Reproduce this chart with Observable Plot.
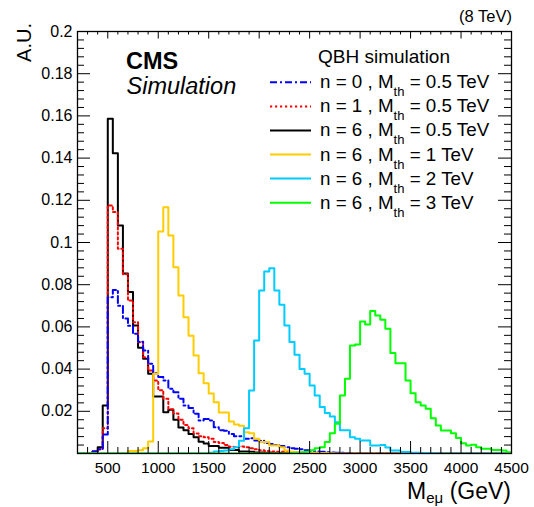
<!DOCTYPE html>
<html>
<head>
<meta charset="utf-8">
<script src="https://cdn.jsdelivr.net/npm/d3@7"></script>
<script src="https://cdn.jsdelivr.net/npm/@observablehq/plot@0.6"></script>
<style>
  html, body { margin: 0; padding: 0; background: #fff; }
  svg { display: block; }
</style>
</head>
<body>
<div id="chart"></div>
<script>
// ---- binning (GeV) ----
const binStart = 200;
const binWidth = 50;

// ---- histogram contents (A.U.), one value per 50 GeV bin from 200 GeV ----
const n0_m05 = [
  0, 0, 0, 0.001, 0.002, 0.009,
  0.074, 0.0775, 0.070, 0.064, 0.0605, 0.0567, 0.053, 0.0488, 0.0425, 0.038,
  0.0362, 0.0346, 0.0307, 0.029, 0.0259, 0.0227, 0.0216, 0.0188, 0.0156, 0.0164,
  0.0156, 0.0125, 0.011, 0.0108, 0.0093, 0.0082, 0.0082, 0.007, 0.0072, 0.0062,
  0.006, 0.005, 0.0045, 0.004, 0.0035, 0.003, 0.0025, 0.0022, 0.002, 0.0015,
  0.0012, 0.001, 0.0008, 0.0006, 0.0005, 0.0004, 0.0003, 0.0002, 0, 0,
  0, 0, 0, 0, 0, 0, 0, 0, 0, 0,
  0, 0, 0, 0, 0, 0, 0, 0, 0, 0,
  0, 0, 0, 0, 0, 0, 0, 0, 0, 0
];
const n1_m05 = [
  0, 0, 0, 0.001, 0.002, 0.012,
  0.1175, 0.1144, 0.097, 0.085, 0.0725, 0.0622, 0.0527, 0.0456, 0.0393, 0.0346,
  0.030, 0.0259, 0.021, 0.019, 0.016, 0.0135, 0.012, 0.0095, 0.0082, 0.0077,
  0.007, 0.0055, 0.005, 0.004, 0.0032, 0.003, 0.0033, 0.003, 0.0025, 0.002,
  0.0015, 0.0012, 0.001, 0.0008, 0.0008, 0.0006, 0.0005, 0.0004, 0.0003, 0.0002,
  0, 0, 0, 0, 0, 0, 0, 0, 0, 0,
  0, 0, 0, 0, 0, 0, 0, 0, 0, 0,
  0, 0, 0, 0, 0, 0, 0, 0, 0, 0,
  0, 0, 0, 0, 0, 0, 0, 0, 0, 0
];
const n6_m05 = [
  0, 0, 0, 0.001, 0.003, 0.0227,
  0.1586, 0.1423, 0.108, 0.0853, 0.0765, 0.0607, 0.0501, 0.0449, 0.0378, 0.027,
  0.027, 0.0196, 0.0207, 0.016, 0.0123, 0.011, 0.0093, 0.0077, 0.0056, 0.0047,
  0.0035, 0.0035, 0.0027, 0.0027, 0.0017, 0.0017, 0.001, 0.001, 0.0008, 0.0005,
  0.0005, 0.0003, 0.0003, 0.0002, 0.0002, 0, 0, 0, 0, 0,
  0, 0, 0, 0, 0, 0, 0, 0, 0, 0,
  0, 0, 0, 0, 0, 0, 0, 0, 0, 0,
  0, 0, 0, 0, 0, 0, 0, 0, 0, 0,
  0, 0, 0, 0, 0, 0, 0, 0, 0, 0
];
const n6_m1 = [
  0, 0, 0, 0, 0, 0,
  0, 0, 0, 0, 0.0012, 0.0012, 0.0015, 0.0025, 0.0057, 0.0378,
  0.1052, 0.1167, 0.1033, 0.0883, 0.0749, 0.0646, 0.0558, 0.0465, 0.038, 0.0333,
  0.0284, 0.0243, 0.0194, 0.0194, 0.0152, 0.0138, 0.0132, 0.0101, 0.0096, 0.007,
  0.0054, 0.0054, 0.0038, 0.0038, 0.003, 0.0014, 0.0008, 0.0006, 0.0005, 0.0004,
  0.0003, 0.0003, 0.0002, 0.0002, 0.0001, 0, 0, 0, 0, 0,
  0, 0, 0, 0, 0, 0, 0, 0, 0, 0,
  0, 0, 0, 0, 0, 0, 0, 0, 0, 0,
  0, 0, 0, 0, 0, 0, 0, 0, 0, 0
];
const n6_m2 = [
  0, 0, 0, 0, 0, 0,
  0, 0, 0, 0, 0, 0, 0, 0, 0, 0,
  0, 0, 0, 0, 0, 0, 0, 0, 0, 0,
  0.0003, 0.001, 0.0012, 0.0014, 0.002, 0.003, 0.006, 0.012, 0.0299, 0.0536,
  0.0773, 0.0863, 0.0878, 0.0773, 0.0705, 0.0607, 0.0528, 0.0468, 0.0401, 0.0378,
  0.0322, 0.0275, 0.022, 0.0192, 0.0175, 0.0148, 0.011, 0.011, 0.0077, 0.007,
  0.0062, 0.0062, 0.0038, 0.0038, 0.004, 0.0029, 0.0014, 0.0014, 0.0007, 0.0007,
  0.0004, 0.0003, 0.0002, 0.0002, 0.0001, 0, 0, 0, 0, 0,
  0, 0, 0, 0, 0, 0, 0, 0, 0, 0
];
const n6_m3 = [
  0, 0, 0, 0, 0, 0,
  0, 0, 0, 0, 0, 0, 0, 0, 0, 0,
  0, 0, 0, 0, 0, 0, 0, 0, 0, 0,
  0, 0, 0, 0, 0, 0, 0, 0, 0, 0,
  0, 0, 0, 0, 0, 0, 0.0002, 0.0003, 0.0005, 0.0008,
  0.0015, 0.0025, 0.003, 0.0054, 0.0096, 0.0141, 0.0275, 0.0354, 0.0512, 0.0517,
  0.0626, 0.0611, 0.0675, 0.0654, 0.0634, 0.0591, 0.0476, 0.0428, 0.0428, 0.0346,
  0.0286, 0.0243, 0.0227, 0.0212, 0.0167, 0.0133, 0.0109, 0.0109, 0.0096, 0.0074,
  0.0049, 0.0038, 0.0042, 0.003, 0.0022, 0.0022, 0.0017, 0.0017, 0.0014, 0.0006
];

// ---- legend / series descriptions (legend order) ----
const seriesValues = [n0_m05, n1_m05, n6_m05, n6_m1, n6_m2, n6_m3];
const seriesN      = ["0", "1", "6", "6", "6", "6"];
const seriesMth    = ["0.5", "0.5", "0.5", "1", "2", "3"];
const seriesColor  = ["#0000ff", "#ff0000", "#000000", "#ffcc00", "#00ccff", "#00ff00"];
const seriesDash   = ["7,3,2,3", "2.2,2.8", null, null, null, null];
const drawOrder    = [2, 1, 0, 3, 4, 5];

// ---- axes ----
const xDomain = [200, 4500];
const yDomain = [0, 0.2];
const xMajor = [500, 1000, 1500, 2000, 2500, 3000, 3500, 4000, 4500];
const xMinor = d3.range(300, 4500, 100).filter(v => v % 500 !== 0);
const yMajor = [0.02, 0.04, 0.06, 0.08, 0.1, 0.12, 0.14, 0.16, 0.18, 0.2];
const yMinor = d3.range(1, 50).filter(k => k % 5 !== 0).map(k => +(k * 0.004).toFixed(3));

// ---- layout ----
const W = 534, H = 507;
const mL = 77, mR = 23, mT = 31, mB = 54;
const pW = W - mL - mR, pH = H - mT - mB;
const font = "'Liberation Sans', Arial, Helvetica, sans-serif";

function histRows(values) {
  const rows = values.map((v, i) => ({x: binStart + i * binWidth, y: v}));
  rows.push({x: binStart + values.length * binWidth, y: values[values.length - 1]});
  return rows;
}

const lineMarks = drawOrder.map(k => Plot.line(histRows(seriesValues[k]), {
  x: "x", y: "y", curve: "step-after",
  stroke: seriesColor[k], strokeWidth: 2,
  strokeDasharray: seriesDash[k] ?? undefined,
  clip: true
}));

const chart = Plot.plot({
  width: W, height: H,
  marginLeft: mL, marginRight: mR, marginTop: mT, marginBottom: mB,
  x: {domain: xDomain, axis: null},
  y: {domain: yDomain, axis: null},
  style: {fontFamily: font, background: "#fff", color: "#000"},
  marks: [
    ...lineMarks,
    // inward ticks, ROOT style
    Plot.tickX(xMajor, {x: d => d, stroke: "#000", insetTop: pH - 12}),
    Plot.tickX(xMinor, {x: d => d, stroke: "#000", insetTop: pH - 6}),
    Plot.tickX(xMajor, {x: d => d, stroke: "#000", insetBottom: pH - 7.5}),
    Plot.tickX(xMinor, {x: d => d, stroke: "#000", insetBottom: pH - 3.5}),
    Plot.tickY(yMajor, {y: d => d, stroke: "#000", insetRight: pW - 13}),
    Plot.tickY(yMinor, {y: d => d, stroke: "#000", insetRight: pW - 7}),
    Plot.tickY(yMajor, {y: d => d, stroke: "#000", insetLeft: pW - 13}),
    Plot.tickY(yMinor, {y: d => d, stroke: "#000", insetLeft: pW - 7}),
    Plot.frame({stroke: "#000", strokeWidth: 1.3}),
    Plot.axisX(xMajor, {anchor: "bottom", tickSize: 0, tickPadding: 8.5, fontSize: 15.5, label: null, tickFormat: d => String(d)}),
    Plot.axisY(yMajor, {anchor: "left", tickSize: 0, tickPadding: 5, fontSize: 16, label: null, tickFormat: d => String(d)})
  ]
});

const svg = d3.select(chart);
const txt = svg.append("g").attr("font-family", font).attr("fill", "#000").attr("text-anchor", "start");

// y title
txt.append("text").attr("transform", "translate(31,23) rotate(-90)")
  .attr("text-anchor", "end").attr("font-size", 20).text("A.U.");

// energy label
txt.append("text").attr("x", 512).attr("y", 22).attr("text-anchor", "end")
  .attr("font-size", 16.5).text("(8 TeV)");

// x title with subscript
const xt = txt.append("text").attr("x", 511).attr("y", 499).attr("text-anchor", "end").attr("font-size", 23);
xt.append("tspan").text("M");
xt.append("tspan").attr("font-size", 15).attr("dy", 3.5).text("eμ");
xt.append("tspan").attr("dy", -3.5).text(" (GeV)");

// CMS Simulation
txt.append("text").attr("x", 126).attr("y", 68.5).attr("font-size", 23.5).attr("font-weight", "bold").text("CMS");
txt.append("text").attr("x", 126.5).attr("y", 94).attr("font-size", 23.5).attr("font-style", "italic").text("Simulation");

// legend
const lg = svg.append("g").attr("font-family", font).attr("fill", "#000").attr("text-anchor", "start");
lg.append("text").attr("x", 318).attr("y", 63.3).attr("font-size", 19).text("QBH simulation");
seriesN.forEach((n, i) => {
  const cy = 82.3 + i * 24.08;
  lg.append("line").attr("x1", 270).attr("x2", 311).attr("y1", cy).attr("y2", cy)
    .attr("stroke", seriesColor[i]).attr("stroke-width", 2)
    .attr("stroke-dasharray", seriesDash[i]);
  const t = lg.append("text").attr("x", 320).attr("y", cy + 6).attr("font-size", 18.8);
  t.append("tspan").text(`n = ${n} , M`);
  t.append("tspan").attr("font-size", 13).attr("dy", 8).text("th");
  t.append("tspan").attr("dy", -8).text(` = ${seriesMth[i]} TeV`);
});

document.getElementById("chart").appendChild(chart);
</script>
</body>
</html>
